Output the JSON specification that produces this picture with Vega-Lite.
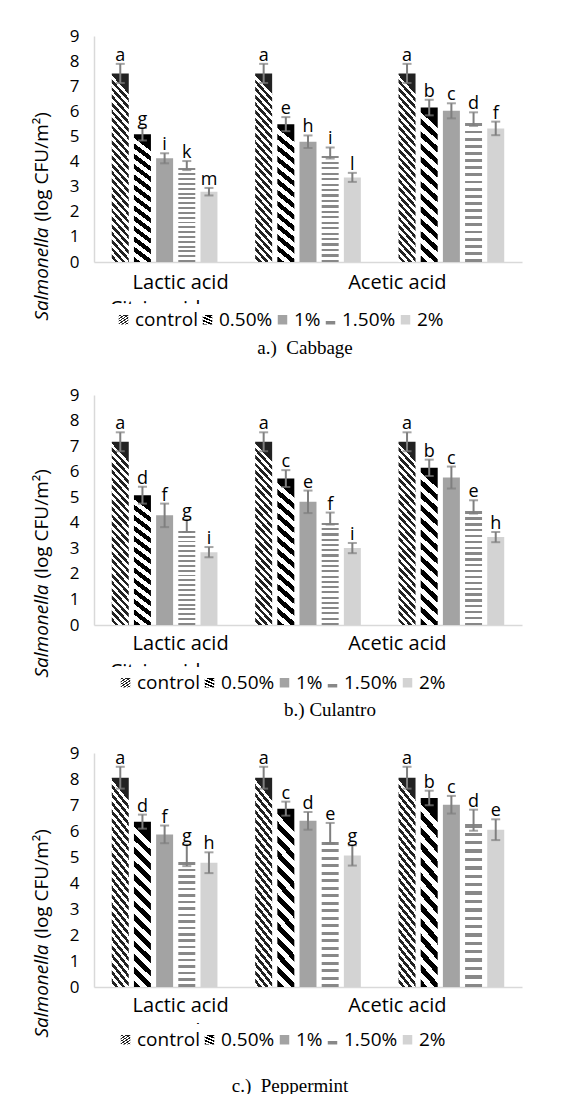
{
"$schema": "https://vega.github.io/schema/vega-lite/v6.json",
"background": "white",
"padding": {"left": 32, "top": 27, "right": 5, "bottom": 0},
"config": {
 "view": {"stroke": null},
 "font": "Open Sans"
},
"params": [
 {"name": "gCtrl", "value": {"gradient": "linear", "x1": 0.1, "y1": 0, "x2": 0, "y2": 1, "stops": [
   {"offset":0,"color":"#222"},{"offset":0.02,"color":"#222"},{"offset":0.02,"color":"#fff"},{"offset":0.04,"color":"#fff"},
   {"offset":0.04,"color":"#222"},{"offset":0.06,"color":"#222"},{"offset":0.06,"color":"#fff"},{"offset":0.08,"color":"#fff"},
   {"offset":0.08,"color":"#222"},{"offset":0.1,"color":"#222"},{"offset":0.1,"color":"#fff"},{"offset":0.12,"color":"#fff"},
   {"offset":0.12,"color":"#222"},{"offset":0.14,"color":"#222"},{"offset":0.14,"color":"#fff"},{"offset":0.16,"color":"#fff"},
   {"offset":0.16,"color":"#222"},{"offset":0.18,"color":"#222"},{"offset":0.18,"color":"#fff"},{"offset":0.2,"color":"#fff"},
   {"offset":0.2,"color":"#222"},{"offset":0.22,"color":"#222"},{"offset":0.22,"color":"#fff"},{"offset":0.24,"color":"#fff"},
   {"offset":0.24,"color":"#222"},{"offset":0.26,"color":"#222"},{"offset":0.26,"color":"#fff"},{"offset":0.28,"color":"#fff"},
   {"offset":0.28,"color":"#222"},{"offset":0.3,"color":"#222"},{"offset":0.3,"color":"#fff"},{"offset":0.32,"color":"#fff"},
   {"offset":0.32,"color":"#222"},{"offset":0.34,"color":"#222"},{"offset":0.34,"color":"#fff"},{"offset":0.36,"color":"#fff"},
   {"offset":0.36,"color":"#222"},{"offset":0.38,"color":"#222"},{"offset":0.38,"color":"#fff"},{"offset":0.4,"color":"#fff"},
   {"offset":0.4,"color":"#222"},{"offset":0.42,"color":"#222"},{"offset":0.42,"color":"#fff"},{"offset":0.44,"color":"#fff"},
   {"offset":0.44,"color":"#222"},{"offset":0.46,"color":"#222"},{"offset":0.46,"color":"#fff"},{"offset":0.48,"color":"#fff"},
   {"offset":0.48,"color":"#222"},{"offset":0.5,"color":"#222"},{"offset":0.5,"color":"#fff"},{"offset":0.52,"color":"#fff"},
   {"offset":0.52,"color":"#222"},{"offset":0.54,"color":"#222"},{"offset":0.54,"color":"#fff"},{"offset":0.56,"color":"#fff"},
   {"offset":0.56,"color":"#222"},{"offset":0.58,"color":"#222"},{"offset":0.58,"color":"#fff"},{"offset":0.6,"color":"#fff"},
   {"offset":0.6,"color":"#222"},{"offset":0.62,"color":"#222"},{"offset":0.62,"color":"#fff"},{"offset":0.64,"color":"#fff"},
   {"offset":0.64,"color":"#222"},{"offset":0.66,"color":"#222"},{"offset":0.66,"color":"#fff"},{"offset":0.68,"color":"#fff"},
   {"offset":0.68,"color":"#222"},{"offset":0.7,"color":"#222"},{"offset":0.7,"color":"#fff"},{"offset":0.72,"color":"#fff"},
   {"offset":0.72,"color":"#222"},{"offset":0.74,"color":"#222"},{"offset":0.74,"color":"#fff"},{"offset":0.76,"color":"#fff"},
   {"offset":0.76,"color":"#222"},{"offset":0.78,"color":"#222"},{"offset":0.78,"color":"#fff"},{"offset":0.8,"color":"#fff"},
   {"offset":0.8,"color":"#222"},{"offset":0.82,"color":"#222"},{"offset":0.82,"color":"#fff"},{"offset":0.84,"color":"#fff"},
   {"offset":0.84,"color":"#222"},{"offset":0.86,"color":"#222"},{"offset":0.86,"color":"#fff"},{"offset":0.88,"color":"#fff"},
   {"offset":0.88,"color":"#222"},{"offset":0.9,"color":"#222"},{"offset":0.9,"color":"#fff"},{"offset":0.92,"color":"#fff"},
   {"offset":0.92,"color":"#222"},{"offset":0.94,"color":"#222"},{"offset":0.94,"color":"#fff"},{"offset":0.96,"color":"#fff"},
   {"offset":0.96,"color":"#222"},{"offset":0.98,"color":"#222"},{"offset":0.98,"color":"#fff"},{"offset":1,"color":"#fff"}
  ]}},
 {"name": "gHalf", "value": {"gradient": "linear", "x1": 0.1, "y1": 0, "x2": 0, "y2": 1, "stops": [
   {"offset":0,"color":"#000"},{"offset":0.04,"color":"#000"},{"offset":0.04,"color":"#fff"},{"offset":0.08,"color":"#fff"},
   {"offset":0.08,"color":"#000"},{"offset":0.12,"color":"#000"},{"offset":0.12,"color":"#fff"},{"offset":0.16,"color":"#fff"},
   {"offset":0.16,"color":"#000"},{"offset":0.2,"color":"#000"},{"offset":0.2,"color":"#fff"},{"offset":0.24,"color":"#fff"},
   {"offset":0.24,"color":"#000"},{"offset":0.28,"color":"#000"},{"offset":0.28,"color":"#fff"},{"offset":0.32,"color":"#fff"},
   {"offset":0.32,"color":"#000"},{"offset":0.36,"color":"#000"},{"offset":0.36,"color":"#fff"},{"offset":0.4,"color":"#fff"},
   {"offset":0.4,"color":"#000"},{"offset":0.44,"color":"#000"},{"offset":0.44,"color":"#fff"},{"offset":0.48,"color":"#fff"},
   {"offset":0.48,"color":"#000"},{"offset":0.52,"color":"#000"},{"offset":0.52,"color":"#fff"},{"offset":0.56,"color":"#fff"},
   {"offset":0.56,"color":"#000"},{"offset":0.6,"color":"#000"},{"offset":0.6,"color":"#fff"},{"offset":0.64,"color":"#fff"},
   {"offset":0.64,"color":"#000"},{"offset":0.68,"color":"#000"},{"offset":0.68,"color":"#fff"},{"offset":0.72,"color":"#fff"},
   {"offset":0.72,"color":"#000"},{"offset":0.76,"color":"#000"},{"offset":0.76,"color":"#fff"},{"offset":0.8,"color":"#fff"},
   {"offset":0.8,"color":"#000"},{"offset":0.84,"color":"#000"},{"offset":0.84,"color":"#fff"},{"offset":0.88,"color":"#fff"},
   {"offset":0.88,"color":"#000"},{"offset":0.92,"color":"#000"},{"offset":0.92,"color":"#fff"},{"offset":0.96,"color":"#fff"},
   {"offset":0.96,"color":"#000"},{"offset":1,"color":"#000"}
  ]}},
 {"name": "gOneHalf", "value": {"gradient": "linear", "x1": 0, "y1": 0, "x2": 0, "y2": 1, "stops": [
   {"offset":0,"color":"#fff"},{"offset":0.03,"color":"#fff"},{"offset":0.03,"color":"#888"},{"offset":0.05,"color":"#888"},
   {"offset":0.05,"color":"#fff"},{"offset":0.08,"color":"#fff"},{"offset":0.08,"color":"#888"},{"offset":0.1,"color":"#888"},
   {"offset":0.1,"color":"#fff"},{"offset":0.13,"color":"#fff"},{"offset":0.13,"color":"#888"},{"offset":0.15,"color":"#888"},
   {"offset":0.15,"color":"#fff"},{"offset":0.18,"color":"#fff"},{"offset":0.18,"color":"#888"},{"offset":0.2,"color":"#888"},
   {"offset":0.2,"color":"#fff"},{"offset":0.23,"color":"#fff"},{"offset":0.23,"color":"#888"},{"offset":0.25,"color":"#888"},
   {"offset":0.25,"color":"#fff"},{"offset":0.28,"color":"#fff"},{"offset":0.28,"color":"#888"},{"offset":0.3,"color":"#888"},
   {"offset":0.3,"color":"#fff"},{"offset":0.33,"color":"#fff"},{"offset":0.33,"color":"#888"},{"offset":0.35,"color":"#888"},
   {"offset":0.35,"color":"#fff"},{"offset":0.38,"color":"#fff"},{"offset":0.38,"color":"#888"},{"offset":0.4,"color":"#888"},
   {"offset":0.4,"color":"#fff"},{"offset":0.43,"color":"#fff"},{"offset":0.43,"color":"#888"},{"offset":0.45,"color":"#888"},
   {"offset":0.45,"color":"#fff"},{"offset":0.48,"color":"#fff"},{"offset":0.48,"color":"#888"},{"offset":0.5,"color":"#888"},
   {"offset":0.5,"color":"#fff"},{"offset":0.53,"color":"#fff"},{"offset":0.53,"color":"#888"},{"offset":0.55,"color":"#888"},
   {"offset":0.55,"color":"#fff"},{"offset":0.58,"color":"#fff"},{"offset":0.58,"color":"#888"},{"offset":0.6,"color":"#888"},
   {"offset":0.6,"color":"#fff"},{"offset":0.63,"color":"#fff"},{"offset":0.63,"color":"#888"},{"offset":0.65,"color":"#888"},
   {"offset":0.65,"color":"#fff"},{"offset":0.68,"color":"#fff"},{"offset":0.68,"color":"#888"},{"offset":0.7,"color":"#888"},
   {"offset":0.7,"color":"#fff"},{"offset":0.73,"color":"#fff"},{"offset":0.73,"color":"#888"},{"offset":0.75,"color":"#888"},
   {"offset":0.75,"color":"#fff"},{"offset":0.78,"color":"#fff"},{"offset":0.78,"color":"#888"},{"offset":0.8,"color":"#888"},
   {"offset":0.8,"color":"#fff"},{"offset":0.83,"color":"#fff"},{"offset":0.83,"color":"#888"},{"offset":0.85,"color":"#888"},
   {"offset":0.85,"color":"#fff"},{"offset":0.88,"color":"#fff"},{"offset":0.88,"color":"#888"},{"offset":0.9,"color":"#888"},
   {"offset":0.9,"color":"#fff"},{"offset":0.93,"color":"#fff"},{"offset":0.93,"color":"#888"},{"offset":0.95,"color":"#888"},
   {"offset":0.95,"color":"#fff"},{"offset":0.98,"color":"#fff"},{"offset":0.98,"color":"#888"},{"offset":1,"color":"#888"}
  ]}}
],
"datasets": {
 "cab": [
  {"acid":"Lactic acid","conc":"control","mean":7.51,"lo":7.13,"hi":7.89,"letter":"a"},
  {"acid":"Lactic acid","conc":"0.50%","mean":5.09,"lo":4.84,"hi":5.34,"letter":"g"},
  {"acid":"Lactic acid","conc":"1%","mean":4.13,"lo":3.93,"hi":4.33,"letter":"i"},
  {"acid":"Lactic acid","conc":"1.50%","mean":3.84,"lo":3.66,"hi":4.02,"letter":"k"},
  {"acid":"Lactic acid","conc":"2%","mean":2.80,"lo":2.65,"hi":2.95,"letter":"m"},
  {"acid":"Citric acid","conc":"control","mean":7.51,"lo":7.13,"hi":7.89,"letter":"a"},
  {"acid":"Citric acid","conc":"0.50%","mean":5.49,"lo":5.21,"hi":5.77,"letter":"e"},
  {"acid":"Citric acid","conc":"1%","mean":4.79,"lo":4.54,"hi":5.04,"letter":"h"},
  {"acid":"Citric acid","conc":"1.50%","mean":4.34,"lo":4.12,"hi":4.56,"letter":"i"},
  {"acid":"Citric acid","conc":"2%","mean":3.37,"lo":3.19,"hi":3.55,"letter":"l"},
  {"acid":"Acetic acid","conc":"control","mean":7.51,"lo":7.13,"hi":7.89,"letter":"a"},
  {"acid":"Acetic acid","conc":"0.50%","mean":6.15,"lo":5.84,"hi":6.46,"letter":"b"},
  {"acid":"Acetic acid","conc":"1%","mean":6.02,"lo":5.72,"hi":6.32,"letter":"c"},
  {"acid":"Acetic acid","conc":"1.50%","mean":5.69,"lo":5.42,"hi":5.96,"letter":"d"},
  {"acid":"Acetic acid","conc":"2%","mean":5.32,"lo":5.05,"hi":5.59,"letter":"f"}
 ],
 "cul": [
  {"acid":"Lactic acid","conc":"control","mean":7.17,"lo":6.80,"hi":7.54,"letter":"a"},
  {"acid":"Lactic acid","conc":"0.50%","mean":5.08,"lo":4.75,"hi":5.41,"letter":"d"},
  {"acid":"Lactic acid","conc":"1%","mean":4.29,"lo":3.83,"hi":4.75,"letter":"f"},
  {"acid":"Lactic acid","conc":"1.50%","mean":3.80,"lo":3.64,"hi":4.12,"letter":"g"},
  {"acid":"Lactic acid","conc":"2%","mean":2.85,"lo":2.65,"hi":3.05,"letter":"i"},
  {"acid":"Citric acid","conc":"control","mean":7.17,"lo":6.80,"hi":7.54,"letter":"a"},
  {"acid":"Citric acid","conc":"0.50%","mean":5.73,"lo":5.40,"hi":6.06,"letter":"c"},
  {"acid":"Citric acid","conc":"1%","mean":4.82,"lo":4.38,"hi":5.26,"letter":"e"},
  {"acid":"Citric acid","conc":"1.50%","mean":4.12,"lo":3.93,"hi":4.40,"letter":"f"},
  {"acid":"Citric acid","conc":"2%","mean":3.01,"lo":2.81,"hi":3.21,"letter":"i"},
  {"acid":"Acetic acid","conc":"control","mean":7.17,"lo":6.80,"hi":7.54,"letter":"a"},
  {"acid":"Acetic acid","conc":"0.50%","mean":6.15,"lo":5.83,"hi":6.47,"letter":"b"},
  {"acid":"Acetic acid","conc":"1%","mean":5.77,"lo":5.34,"hi":6.20,"letter":"c"},
  {"acid":"Acetic acid","conc":"1.50%","mean":4.58,"lo":4.36,"hi":4.88,"letter":"e"},
  {"acid":"Acetic acid","conc":"2%","mean":3.44,"lo":3.24,"hi":3.64,"letter":"h"}
 ],
 "pep": [
  {"acid":"Lactic acid","conc":"control","mean":8.05,"lo":7.63,"hi":8.47,"letter":"a"},
  {"acid":"Lactic acid","conc":"0.50%","mean":6.36,"lo":6.09,"hi":6.63,"letter":"d"},
  {"acid":"Lactic acid","conc":"1%","mean":5.87,"lo":5.53,"hi":6.21,"letter":"f"},
  {"acid":"Lactic acid","conc":"1.50%","mean":4.95,"lo":4.65,"hi":5.47,"letter":"g"},
  {"acid":"Lactic acid","conc":"2%","mean":4.78,"lo":4.38,"hi":5.18,"letter":"h"},
  {"acid":"Citric acid","conc":"control","mean":8.05,"lo":7.63,"hi":8.47,"letter":"a"},
  {"acid":"Citric acid","conc":"0.50%","mean":6.86,"lo":6.59,"hi":7.13,"letter":"c"},
  {"acid":"Citric acid","conc":"1%","mean":6.39,"lo":6.05,"hi":6.73,"letter":"d"},
  {"acid":"Citric acid","conc":"1.50%","mean":5.75,"lo":5.53,"hi":6.31,"letter":"e"},
  {"acid":"Citric acid","conc":"2%","mean":5.06,"lo":4.67,"hi":5.45,"letter":"g"},
  {"acid":"Acetic acid","conc":"control","mean":8.05,"lo":7.63,"hi":8.47,"letter":"a"},
  {"acid":"Acetic acid","conc":"0.50%","mean":7.27,"lo":6.99,"hi":7.55,"letter":"b"},
  {"acid":"Acetic acid","conc":"1%","mean":7.01,"lo":6.67,"hi":7.35,"letter":"c"},
  {"acid":"Acetic acid","conc":"1.50%","mean":6.45,"lo":6.01,"hi":6.82,"letter":"d"},
  {"acid":"Acetic acid","conc":"2%","mean":6.05,"lo":5.65,"hi":6.45,"letter":"e"}
 ]
},
"spacing": 28,
"resolve": {"scale": {"fill": "independent"}, "legend": {"fill": "independent"}},
"vconcat": [
 {
  "data": {"name": "cab"},
  "width": 428, "height": 226,
  "title": {"text": "a.)\u00a0\u00a0Cabbage", "orient": "bottom", "anchor": "middle", "frame": "group", "font": "Liberation Serif", "fontSize": 19, "fontWeight": "normal", "color": "#000", "dx": -3, "offset": 3},
  "encoding": {
   "x": {"field": "acid", "type": "nominal", "sort": ["Lactic acid", "Citric acid", "Acetic acid"], "scale": {"paddingInner": 0.263, "paddingOuter": 0.124},
    "axis": {"title": null, "labelAngle": 0, "labelFont": "Open Sans", "labelFontSize": 20, "labelColor": "#000", "ticks": false, "domainColor": "#d9d9d9", "domainWidth": 1.5, "labelBaseline": "top", "labelOverlap": false, "labelBound": false,
     "labelPadding": {"condition": {"test": "datum.value === 'Citric acid'", "value": 36}, "value": 10},
     "labelOffset": {"condition": [{"test": "datum.value === 'Lactic acid'", "value": 16}, {"test": "datum.value === 'Citric acid'", "value": -153}], "value": -54}}},
   "xOffset": {"field": "conc", "type": "nominal", "sort": ["control", "0.50%", "1%", "1.50%", "2%"], "scale": {"paddingInner": 0.234, "paddingOuter": 0}}
  },
  "layer": [
   {"mark": {"type": "bar", "strokeWidth": 0},
    "encoding": {
     "y": {"field": "mean", "type": "quantitative", "scale": {"domain": [0, 9]},
      "axis": {"orient": "left", "values": [0,1,2,3,4,5,6,7,8,9], "title": "(log CFU/m²)", "titleFont": "Open Sans", "titleFontSize": 19, "titleFontWeight": "normal", "titleColor": "#000", "titleAngle": 270, "titleAlign": "left", "titleBaseline": "middle", "titleX": -53, "titleY": 185, "labelFont": "Open Sans", "labelFontSize": 17, "labelColor": "#000", "labelPadding": 15, "ticks": false, "grid": false, "domainColor": "#d9d9d9", "domainWidth": 1.5}},
     "fill": {"field": "conc", "type": "nominal", "scale": {"domain": ["control", "0.50%", "1%", "1.50%", "2%"], "range": [{"expr": "gCtrl"}, {"expr": "gHalf"}, "#a3a3a3", {"expr": "gOneHalf"}, "#d3d3d3"]},
      "legend": {"title": null, "orient": "none", "legendX": 14, "legendY": 268, "direction": "horizontal", "symbolType": "square", "symbolSize": 90, "symbolStrokeWidth": 0, "labelFont": "Open Sans", "labelFontSize": 19, "labelColor": "#000", "labelOffset": 2, "columnPadding": 0, "padding": 6, "fillColor": "white", "labelLimit": 200}}
    }},
   {"mark": {"type": "rule", "color": "#7f7f7f", "strokeWidth": 2},
    "encoding": {
     "y": {"field": "lo", "type": "quantitative", "scale": {"domain": [0, 9]},
      "axis": {"orient": "left", "title": "Salmonella", "titleFont": "Open Sans", "titleFontSize": 19, "titleFontWeight": "normal", "titleFontStyle": "italic", "titleColor": "#000", "titleAngle": 270, "titleAlign": "left", "titleBaseline": "middle", "titleX": -53, "titleY": 284, "labels": false, "ticks": false, "domain": false, "grid": false}},
     "y2": {"field": "hi"}}},
   {"mark": {"type": "tick", "color": "#7f7f7f", "thickness": 2, "size": 9},
    "encoding": {"y": {"field": "hi", "type": "quantitative", "scale": {"domain": [0, 9]}, "axis": null}}},
   {"mark": {"type": "tick", "color": "#7f7f7f", "thickness": 2, "size": 9},
    "encoding": {"y": {"field": "lo", "type": "quantitative", "scale": {"domain": [0, 9]}, "axis": null}}},
   {"mark": {"type": "text", "font": "Open Sans", "fontSize": 18, "dy": -3, "baseline": "alphabetic", "color": "#000"},
    "encoding": {"y": {"field": "hi", "type": "quantitative", "scale": {"domain": [0, 9]}, "axis": null}, "text": {"field": "letter"}}}
  ],
  "resolve": {"axis": {"y": "independent"}}
 },
 {
  "spacing": 24,
  "resolve": {"scale": {"fill": "independent"}, "legend": {"fill": "independent"}},
  "vconcat": [
   {
    "data": {"name": "cul"},
    "width": 428, "height": 230,
    "title": {"text": "b.) Culantro", "orient": "bottom", "anchor": "middle", "frame": "group", "font": "Liberation Serif", "fontSize": 19, "fontWeight": "normal", "color": "#000", "dx": 22, "offset": 2},
    "encoding": {
     "x": {"field": "acid", "type": "nominal", "sort": ["Lactic acid", "Citric acid", "Acetic acid"], "scale": {"paddingInner": 0.263, "paddingOuter": 0.124},
      "axis": {"title": null, "labelAngle": 0, "labelFont": "Open Sans", "labelFontSize": 20, "labelColor": "#000", "ticks": false, "domainColor": "#d9d9d9", "domainWidth": 1.5, "labelBaseline": "top", "labelOverlap": false, "labelBound": false,
       "labelPadding": {"condition": {"test": "datum.value === 'Citric acid'", "value": 36}, "value": 8},
       "labelOffset": {"condition": [{"test": "datum.value === 'Lactic acid'", "value": 16}, {"test": "datum.value === 'Citric acid'", "value": -153}], "value": -54}}},
     "xOffset": {"field": "conc", "type": "nominal", "sort": ["control", "0.50%", "1%", "1.50%", "2%"], "scale": {"paddingInner": 0.234, "paddingOuter": 0}}
    },
    "layer": [
     {"mark": {"type": "bar", "strokeWidth": 0},
      "encoding": {
       "y": {"field": "mean", "type": "quantitative", "scale": {"domain": [0, 9]},
        "axis": {"orient": "left", "values": [0,1,2,3,4,5,6,7,8,9], "title": "(log CFU/m²)", "titleFont": "Open Sans", "titleFontSize": 19, "titleFontWeight": "normal", "titleColor": "#000", "titleAngle": 270, "titleAlign": "left", "titleBaseline": "middle", "titleX": -53, "titleY": 183, "labelFont": "Open Sans", "labelFontSize": 17, "labelColor": "#000", "labelPadding": 15, "ticks": false, "grid": false, "domainColor": "#d9d9d9", "domainWidth": 1.5}},
       "fill": {"field": "conc", "type": "nominal", "scale": {"domain": ["control", "0.50%", "1%", "1.50%", "2%"], "range": [{"expr": "gCtrl"}, {"expr": "gHalf"}, "#a3a3a3", {"expr": "gOneHalf"}, "#d3d3d3"]},
        "legend": {"title": null, "orient": "none", "legendX": 16, "legendY": 272, "direction": "horizontal", "symbolType": "square", "symbolSize": 90, "symbolStrokeWidth": 0, "labelFont": "Open Sans", "labelFontSize": 19, "labelColor": "#000", "labelOffset": 2, "columnPadding": 0, "padding": 6, "fillColor": "white", "labelLimit": 200}}
      }},
     {"mark": {"type": "rule", "color": "#7f7f7f", "strokeWidth": 2},
      "encoding": {
       "y": {"field": "lo", "type": "quantitative", "scale": {"domain": [0, 9]},
        "axis": {"orient": "left", "title": "Salmonella", "titleFont": "Open Sans", "titleFontSize": 19, "titleFontWeight": "normal", "titleFontStyle": "italic", "titleColor": "#000", "titleAngle": 270, "titleAlign": "left", "titleBaseline": "middle", "titleX": -53, "titleY": 282, "labels": false, "ticks": false, "domain": false, "grid": false}},
       "y2": {"field": "hi"}}},
     {"mark": {"type": "tick", "color": "#7f7f7f", "thickness": 2, "size": 9},
      "encoding": {"y": {"field": "hi", "type": "quantitative", "scale": {"domain": [0, 9]}, "axis": null}}},
     {"mark": {"type": "tick", "color": "#7f7f7f", "thickness": 2, "size": 9},
      "encoding": {"y": {"field": "lo", "type": "quantitative", "scale": {"domain": [0, 9]}, "axis": null}}},
     {"mark": {"type": "text", "font": "Open Sans", "fontSize": 18, "dy": -3, "baseline": "alphabetic", "color": "#000"},
      "encoding": {"y": {"field": "hi", "type": "quantitative", "scale": {"domain": [0, 9]}, "axis": null}, "text": {"field": "letter"}}}
    ],
    "resolve": {"axis": {"y": "independent"}}
   },
   {
    "data": {"name": "pep"},
    "width": 428, "height": 234,
    "title": {"text": "c.)\u00a0\u00a0Peppermint", "orient": "bottom", "anchor": "middle", "frame": "group", "font": "Liberation Serif", "fontSize": 19, "fontWeight": "normal", "color": "#000", "dx": -18, "offset": 21},
    "encoding": {
     "x": {"field": "acid", "type": "nominal", "sort": ["Lactic acid", "Citric acid", "Acetic acid"], "scale": {"paddingInner": 0.263, "paddingOuter": 0.124},
      "axis": {"title": null, "labelAngle": 0, "labelFont": "Open Sans", "labelFontSize": 20, "labelColor": "#000", "ticks": false, "domainColor": "#d9d9d9", "domainWidth": 1.5, "labelBaseline": "top", "labelOverlap": false, "labelBound": false,
       "labelPadding": {"condition": {"test": "datum.value === 'Citric acid'", "value": 34}, "value": 8},
       "labelOffset": {"condition": [{"test": "datum.value === 'Lactic acid'", "value": 16}, {"test": "datum.value === 'Citric acid'", "value": -153}], "value": -54}}},
     "xOffset": {"field": "conc", "type": "nominal", "sort": ["control", "0.50%", "1%", "1.50%", "2%"], "scale": {"paddingInner": 0.234, "paddingOuter": 0}}
    },
    "layer": [
     {"mark": {"type": "bar", "strokeWidth": 0},
      "encoding": {
       "y": {"field": "mean", "type": "quantitative", "scale": {"domain": [0, 9]},
        "axis": {"orient": "left", "values": [0,1,2,3,4,5,6,7,8,9], "title": "(log CFU/m²)", "titleFont": "Open Sans", "titleFontSize": 19, "titleFontWeight": "normal", "titleColor": "#000", "titleAngle": 270, "titleAlign": "left", "titleBaseline": "middle", "titleX": -53, "titleY": 185, "labelFont": "Open Sans", "labelFontSize": 17, "labelColor": "#000", "labelPadding": 15, "ticks": false, "grid": false, "domainColor": "#d9d9d9", "domainWidth": 1.5}},
       "fill": {"field": "conc", "type": "nominal", "scale": {"domain": ["control", "0.50%", "1%", "1.50%", "2%"], "range": [{"expr": "gCtrl"}, {"expr": "gHalf"}, "#a3a3a3", {"expr": "gOneHalf"}, "#d3d3d3"]},
        "legend": {"title": null, "orient": "none", "legendX": 16, "legendY": 271, "direction": "horizontal", "symbolType": "square", "symbolSize": 90, "symbolStrokeWidth": 0, "labelFont": "Open Sans", "labelFontSize": 19, "labelColor": "#000", "labelOffset": 2, "columnPadding": 0, "padding": 6, "fillColor": "white", "labelLimit": 200}}
      }},
     {"mark": {"type": "rule", "color": "#7f7f7f", "strokeWidth": 2},
      "encoding": {
       "y": {"field": "lo", "type": "quantitative", "scale": {"domain": [0, 9]},
        "axis": {"orient": "left", "title": "Salmonella", "titleFont": "Open Sans", "titleFontSize": 19, "titleFontWeight": "normal", "titleFontStyle": "italic", "titleColor": "#000", "titleAngle": 270, "titleAlign": "left", "titleBaseline": "middle", "titleX": -53, "titleY": 284, "labels": false, "ticks": false, "domain": false, "grid": false}},
       "y2": {"field": "hi"}}},
     {"mark": {"type": "tick", "color": "#7f7f7f", "thickness": 2, "size": 9},
      "encoding": {"y": {"field": "hi", "type": "quantitative", "scale": {"domain": [0, 9]}, "axis": null}}},
     {"mark": {"type": "tick", "color": "#7f7f7f", "thickness": 2, "size": 9},
      "encoding": {"y": {"field": "lo", "type": "quantitative", "scale": {"domain": [0, 9]}, "axis": null}}},
     {"mark": {"type": "text", "font": "Open Sans", "fontSize": 18, "dy": -3, "baseline": "alphabetic", "color": "#000"},
      "encoding": {"y": {"field": "hi", "type": "quantitative", "scale": {"domain": [0, 9]}, "axis": null}, "text": {"field": "letter"}}}
    ],
    "resolve": {"axis": {"y": "independent"}}
   }
  ]
 }
]
}
